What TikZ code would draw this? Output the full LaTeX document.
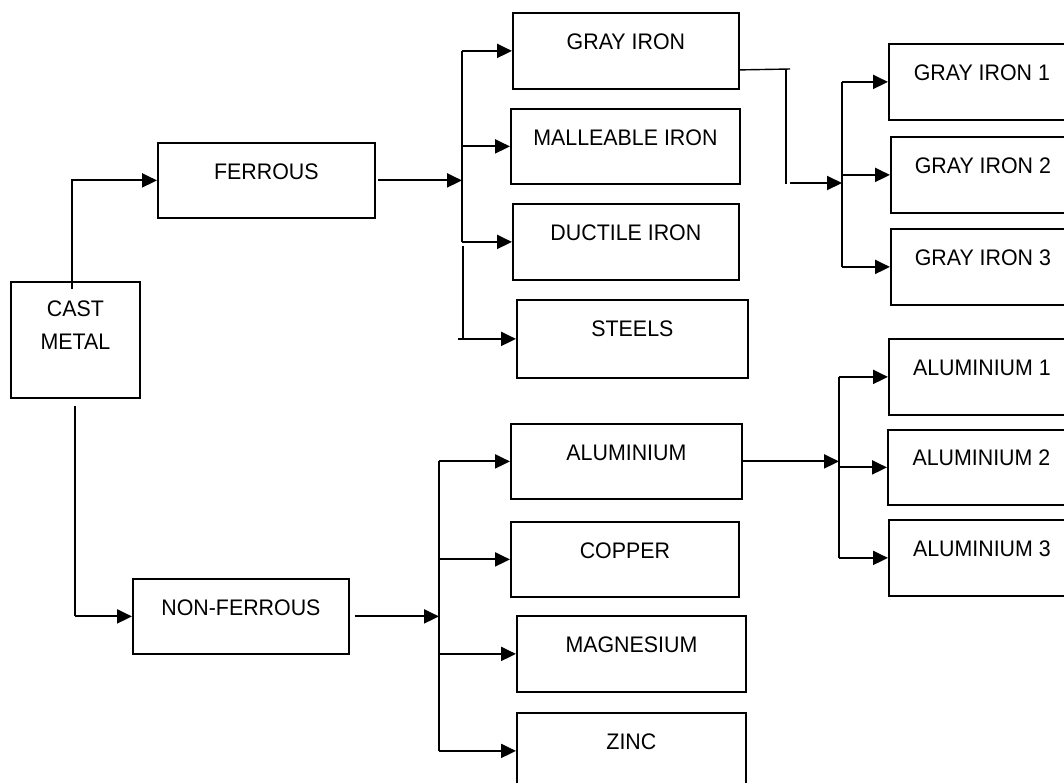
\documentclass[tikz,border=0pt]{standalone}
\usepackage{fontspec}
\setmainfont{Liberation Sans}[FakeStretch=0.95]
\usetikzlibrary{arrows.meta,positioning,calc}

\begin{document}
\begin{tikzpicture}[x=1pt, y=-1pt,
    box/.style={rectangle, draw, line width=1.8pt, inner sep=0pt, anchor=north west, align=center,
      text height=36pt, text depth=38pt, font=\fontsize{22.5}{33}\selectfont},
    line/.style={line width=2pt},
    thinline/.style={line width=1.4pt},
    arrow/.style={-{Triangle[length=15pt, width=14pt]}, line width=2pt}
  ]
    \useasboundingbox (0,0) rectangle (1064,782);
    \clip (0,0) rectangle (1064,782);

    % first level
    \node[box, minimum width=129pt, minimum height=116pt, text height=68pt, text depth=48pt] (cast) at (10,281) {CAST\\METAL};
    \node[box, minimum width=217pt, minimum height=75pt] (ferrous) at (157,142) {FERROUS};
    \node[box, minimum width=216pt, minimum height=75pt] (nonferrous) at (132,578) {NON-FERROUS};

    % ferrous group
    \node[box, minimum width=226pt, minimum height=76pt] (gray) at (512,12) {GRAY IRON};
    \node[box, minimum width=229pt, minimum height=75pt] (malleable) at (510,108) {MALLEABLE IRON};
    \node[box, minimum width=226pt, minimum height=76pt] (ductile) at (512,203) {DUCTILE IRON};
    \node[box, minimum width=231pt, minimum height=78pt, text height=34pt] (steels) at (516,299) {STEELS};

    % non-ferrous group
    \node[box, minimum width=231pt, minimum height=75pt] (aluminium) at (510,423) {ALUMINIUM};
    \node[box, minimum width=228pt, minimum height=75pt] (copper) at (510,521) {COPPER};
    \node[box, minimum width=229pt, minimum height=76pt] (magnesium) at (516,615) {MAGNESIUM};
    \node[box, minimum width=229pt, minimum height=76pt] (zinc) at (516,712) {ZINC};

    % third level
    \node[box, minimum width=186pt, minimum height=76pt] (gi1) at (888,43) {GRAY IRON 1};
    \node[box, minimum width=184pt, minimum height=76pt] (gi2) at (890,136) {GRAY IRON 2};
    \node[box, minimum width=184pt, minimum height=76pt] (gi3) at (890,228) {GRAY IRON 3};
    \node[box, minimum width=186pt, minimum height=76pt] (al1) at (888,338) {ALUMINIUM 1};
    \node[box, minimum width=187pt, minimum height=75pt, text height=34pt] (al2) at (887,429) {ALUMINIUM 2};
    \node[box, minimum width=186pt, minimum height=76pt] (al3) at (888,519) {ALUMINIUM 3};

    \coordinate (fbus) at (462,177);
    \coordinate (nbus) at (439,615);
    \coordinate (gbus) at (842,183);
    \coordinate (abus) at (839,465);
    \coordinate (gtop) at (786,69);
    \coordinate (gdrop) at (790,183);

    \draw[arrow] ($(cast.north)+(-3,8)$) |- (ferrous.west);
    \draw[line] ($(cast.south)+(0,7)$) -- ($(cast.south |- nonferrous.west)$);
    \draw[arrow] (cast.south |- nonferrous.west) -- (nonferrous.west);

    % ferrous branches
    \draw[arrow] ([xshift=2pt]ferrous.east) -- (ferrous.east -| fbus);
    \draw[line] (fbus |- gray.west) -- (fbus |- ductile.west);
    \foreach \n in {gray,malleable,ductile}
      \draw[arrow] (fbus |- \n.west) -- (\n.west);
    \draw[thinline] ($(fbus |- ductile.west)+(1,4)$) -- ($(fbus |- steels.west)+(1,0)$);
    \draw[arrow] ($(fbus |- steels.west)+(-4,0)$) -- (steels.west);

    % non-ferrous branches
    \draw[arrow] ([xshift=5pt]nonferrous.east) -- (nonferrous.east -| nbus);
    \draw[line] (nbus |- aluminium.west) -- (nbus |- zinc.west);
    \foreach \n in {aluminium,copper,magnesium,zinc}
      \draw[arrow] (nbus |- \n.west) -- (\n.west);

    % gray iron
    \draw[thinline] ($(gray.east)+(0,19)$) -- ($(gtop)+(4,0)$);
    \draw[thinline] (gtop) -- ($(gtop)+(0,115)$);
    \draw[arrow] (gdrop) -- (gbus);
    \draw[line] (gbus |- gi1.west) -- (gbus |- gi3.west);
    \foreach \n in {gi1,gi2,gi3}
      \draw[arrow] (gbus |- \n.west) -- (\n.west);

    % aluminium
    \draw[arrow] (aluminium.east) -- (aluminium.east -| abus);
    \draw[line] (abus |- al1.west) -- (abus |- al3.west);
    \foreach \n in {al1,al2,al3}
      \draw[arrow] (abus |- \n.west) -- (\n.west);
  \end{tikzpicture}
\end{document}
